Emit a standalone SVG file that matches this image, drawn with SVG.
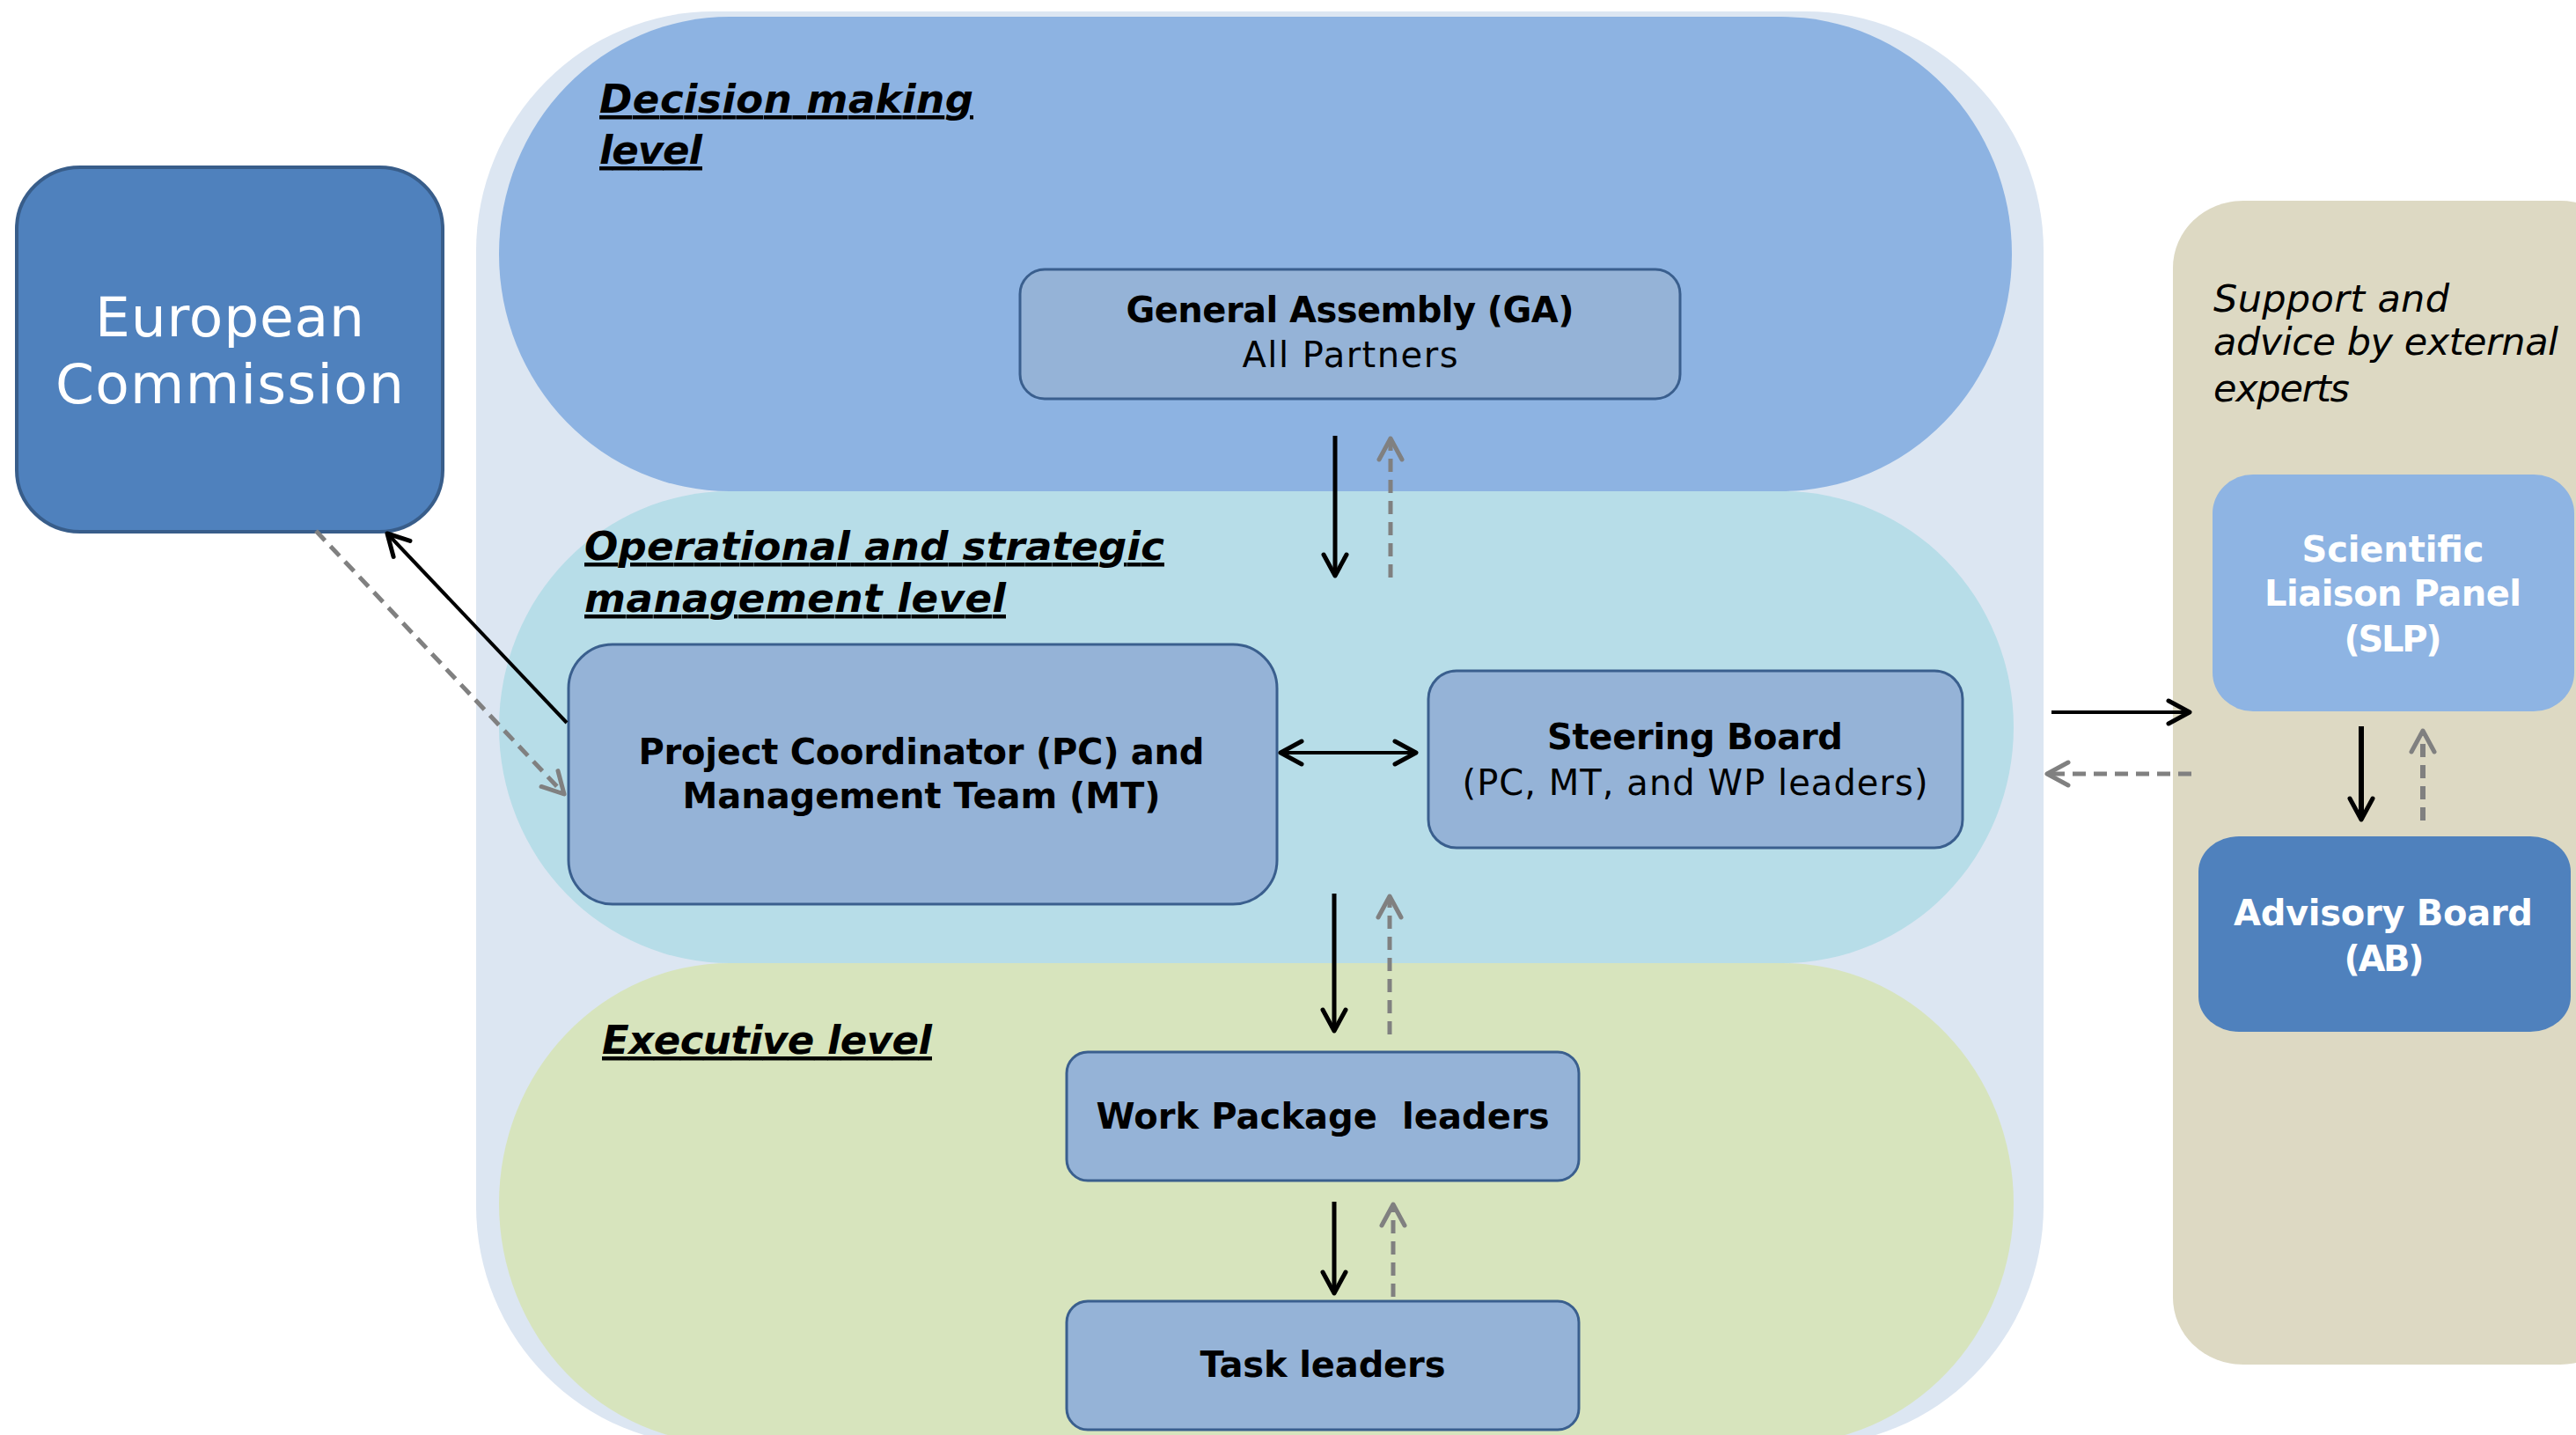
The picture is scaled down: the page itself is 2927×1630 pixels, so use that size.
<svg xmlns="http://www.w3.org/2000/svg" width="2927" height="1630" viewBox="0 0 2927 1630">
<defs>
<style>
text{font-family:"DejaVu Sans","Liberation Sans",sans-serif;}
.box{fill:#95b3d7;stroke:#3a5f8e;stroke-width:3;}
.b{font-weight:bold;font-size:40px;fill:#000;}
.r{font-size:40px;fill:#000;}
.lvl{font-weight:bold;font-style:italic;font-size:45px;fill:#000;text-decoration:underline;}
.w{font-weight:bold;font-size:40px;fill:#fff;}
.sup{font-size:43px;font-style:italic;fill:#000;}
.solid{stroke:#000;stroke-width:5;fill:none;marker-end:url(#ahb);}
.dash{stroke:#808080;stroke-width:5;fill:none;stroke-dasharray:15 9;marker-end:url(#ahg);}
</style>
<marker id="ahb" viewBox="-30 -18 34 36" markerWidth="34" markerHeight="36" refX="0" refY="0" orient="auto-start-reverse" markerUnits="userSpaceOnUse">
<path d="M-24,-13 L0,0 L-24,13" fill="none" stroke="#000" stroke-width="5" stroke-linecap="round" stroke-linejoin="round"/>
</marker>
<marker id="ahg" viewBox="-30 -18 34 36" markerWidth="34" markerHeight="36" refX="0" refY="0" orient="auto" markerUnits="userSpaceOnUse">
<path d="M-24,-13 L0,0 L-24,13" fill="none" stroke="#808080" stroke-width="5" stroke-linecap="round" stroke-linejoin="round"/>
</marker>
</defs>
<rect width="2927" height="1630" fill="#fff"/>

<g id="container">
<rect x="541" y="13" width="1781" height="1629" rx="270" ry="272" fill="#dce6f2"/>
</g>
<g id="decision-level">
<rect x="567" y="19" width="1719" height="539" rx="262" ry="269" fill="#8db3e2"/>
<text class="lvl" x="681" y="128" textLength="425">Decision making</text>
<text class="lvl" x="681" y="186" textLength="117">level</text>
</g>
<g id="operational-level">
<rect x="567" y="558" width="1721" height="536" rx="262" ry="268" fill="#b7dde8"/>
<text class="lvl" x="664" y="636" textLength="659">Operational and strategic</text>
<text class="lvl" x="664" y="695" textLength="479">management level</text>
</g>
<g id="executive-level">
<rect x="567" y="1094" width="1721" height="546" rx="262" ry="273" fill="#d7e4bd"/>
<text class="lvl" x="684" y="1197" textLength="375">Executive level</text>
</g>

<g id="european-commission">
<rect x="19" y="190" width="484" height="414" rx="72" ry="70" fill="#4f81bd" stroke="#385d8a" stroke-width="4"/>
<text x="261" y="382" text-anchor="middle" font-size="63" fill="#fff" textLength="306">European</text>
<text x="261" y="458" text-anchor="middle" font-size="63" fill="#fff" textLength="396">Commission</text>
</g>

<g id="general-assembly">
<rect class="box" x="1159" y="306" width="750" height="147" rx="28"/>
<text class="b" x="1534" y="366" text-anchor="middle" textLength="509">General Assembly (GA)</text>
<text class="r" x="1534" y="417" text-anchor="middle" textLength="245">All Partners</text>
</g>

<g id="project-coordinator">
<rect class="box" x="646" y="732" width="805" height="295" rx="50"/>
<text class="b" x="1047" y="868" text-anchor="middle" textLength="643">Project Coordinator (PC) and</text>
<text class="b" x="1047" y="918" text-anchor="middle" textLength="543">Management Team (MT)</text>
</g>

<g id="steering-board">
<rect class="box" x="1623" y="762" width="607" height="201" rx="32"/>
<text class="b" x="1926" y="851" text-anchor="middle" textLength="336">Steering Board</text>
<text class="r" x="1926" y="903" text-anchor="middle" textLength="529">(PC, MT, and WP leaders)</text>
</g>

<g id="wp-leaders">
<rect class="box" x="1212" y="1195" width="582" height="146" rx="24"/>
<text class="b" x="1503" y="1282" text-anchor="middle" textLength="515" xml:space="preserve">Work Package  leaders</text>
</g>

<g id="task-leaders">
<rect class="box" x="1212" y="1478" width="582" height="146" rx="24"/>
<text class="b" x="1503" y="1564" text-anchor="middle" textLength="279">Task leaders</text>
</g>

<g id="external-support">
<rect x="2469" y="228" width="520" height="1322" rx="80" ry="76" fill="#ddd9c3"/>
<text class="sup" x="2515" y="354" textLength="268">Support and</text>
<text class="sup" x="2515" y="403" textLength="392">advice by external</text>
<text class="sup" x="2515" y="456" textLength="155">experts</text>
</g>

<g id="slp">
<rect x="2514" y="539" width="411" height="269" rx="46" ry="44" fill="#8eb4e3"/>
<text class="w" x="2719" y="638" text-anchor="middle" textLength="207">Scientific</text>
<text class="w" x="2719" y="688" text-anchor="middle" textLength="292">Liaison Panel</text>
<text class="w" x="2719" y="740" text-anchor="middle" textLength="111">(SLP)</text>
</g>

<g id="advisory-board">
<rect x="2498" y="950" width="423" height="222" rx="46" ry="40" fill="#4f81bd"/>
<text class="w" x="2708" y="1051" text-anchor="middle" textLength="340">Advisory Board</text>
<text class="w" x="2709" y="1103" text-anchor="middle" textLength="91">(AB)</text>
</g>

<g id="connectors">
<line class="solid" x1="1517" y1="495" x2="1517" y2="654"/>
<line class="dash" x1="1580" y1="656" x2="1580" y2="498"/>
<line class="solid" x1="1455" y1="855" x2="1609" y2="855" style="marker-start:url(#ahb);stroke-width:4"/>
<line class="solid" x1="1516" y1="1015" x2="1516" y2="1171"/>
<line class="dash" x1="1579" y1="1175" x2="1579" y2="1018"/>
<line class="solid" x1="1516" y1="1365" x2="1516" y2="1469"/>
<line class="dash" x1="1583" y1="1473" x2="1583" y2="1368"/>
<line class="solid" x1="644" y1="821" x2="440" y2="606" style="stroke-width:4"/>
<line class="dash" x1="359" y1="603" x2="641" y2="902"/>
<line class="solid" x1="2331" y1="809" x2="2488" y2="809" style="stroke-width:4"/>
<line class="dash" x1="2490" y1="879" x2="2326" y2="879"/>
<line class="solid" x1="2683" y1="825" x2="2683" y2="931" style="stroke-width:6"/>
<line class="dash" x1="2753" y1="932" x2="2753" y2="830" style="stroke-width:6"/>
</g>
</svg>
